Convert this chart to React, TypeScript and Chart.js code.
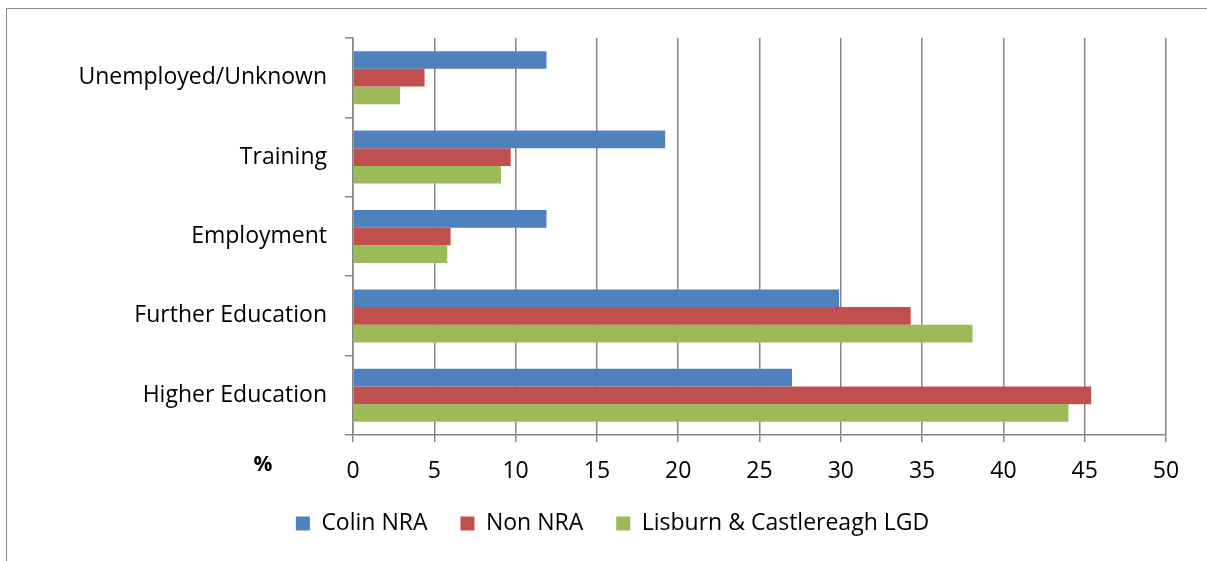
import React, { useEffect, useRef } from "react";
import { Chart, registerables } from "chart.js";

Chart.register(...registerables);

const categories = [
  "Unemployed/Unknown",
  "Training",
  "Employment",
  "Further Education",
  "Higher Education",
];
const seriesNames = ["Colin NRA", "Non NRA", "Lisburn & Castlereagh LGD"];
const colinNRA = [11.9, 19.2, 11.9, 29.9, 27.0];
const nonNRA = [4.4, 9.7, 6.0, 34.3, 45.4];
const lisburnLGD = [2.9, 9.1, 5.8, 38.1, 44.0];
const seriesColors = ["#4F81BD", "#C0504D", "#9BBB59"];
const xTicksMax = 50;
const xTickStep = 5;
const axisTitle = "%";

const FONT = "'Open Sans', sans-serif";
const GRID = "#868686";

const percentLabel = {
  id: "percentLabel",
  afterDraw(chart: any) {
    const { ctx, chartArea } = chart;
    ctx.save();
    ctx.font = `bold 21px ${FONT}`;
    ctx.fillStyle = "#000";
    ctx.textAlign = "center";
    ctx.textBaseline = "middle";
    ctx.fillText(axisTitle, chartArea.left - 90, chartArea.bottom + 30);
    ctx.restore();
  },
};

export default function App() {
  const ref = useRef<HTMLCanvasElement | null>(null);
  useEffect(() => {
    document.body.style.margin = "0";
    const chart = new Chart(ref.current as HTMLCanvasElement, {
      type: "bar",
      data: {
        labels: categories,
        datasets: [colinNRA, nonNRA, lisburnLGD].map((d, i) => ({
          label: seriesNames[i],
          data: d,
          backgroundColor: seriesColors[i],
          borderWidth: 0,
          categoryPercentage: 0.667,
          barPercentage: 1,
        })),
      },
      options: {
        indexAxis: "y",
        animation: false,
        responsive: false,
        maintainAspectRatio: false,
        layout: { padding: { top: 38, right: 41, bottom: 16, left: 59 } },
        plugins: {
          tooltip: { enabled: false },
          legend: {
            position: "bottom",
            labels: {
              color: "#000",
              font: { family: FONT, size: 23 },
              boxWidth: 14,
              boxHeight: 14,
              padding: 33,
            },
          },
        },
        scales: {
          x: {
            min: 0,
            max: xTicksMax,
            ticks: {
              stepSize: xTickStep,
              color: "#000",
              font: { family: FONT, size: 23 },
              padding: 16,
            },
            grid: { color: GRID, lineWidth: 1.5, tickLength: 7 },
            border: { color: GRID, width: 1.5 },
            afterFit(scale: any) {
              scale.height = 44;
            },
          },
          y: {
            ticks: {
              color: "#000",
              font: { family: FONT, size: 23 },
              padding: 18,
            },
            grid: {
              drawOnChartArea: false,
              offset: true,
              tickLength: 8,
              color: GRID,
              lineWidth: 1.5,
            },
            border: { color: GRID, width: 1.5 },
            afterFit(scale: any) {
              scale.width = 294;
            },
          },
        },
      },
      plugins: [percentLabel],
    });
    return () => chart.destroy();
  }, []);
  return (
    <div style={{ position: "absolute", left: 0, top: 0, width: 1207, height: 561, background: "#fff" }}>
      <div
        style={{
          position: "absolute",
          left: 6,
          top: 8,
          width: 1207,
          height: 561,
          borderLeft: "1.5px solid #8a8a8a",
          borderTop: "1.5px solid #8a8a8a",
        }}
      />
      <canvas ref={ref} width={1207} height={561} style={{ position: "absolute", left: 0, top: 0 }} />
    </div>
  );
}
